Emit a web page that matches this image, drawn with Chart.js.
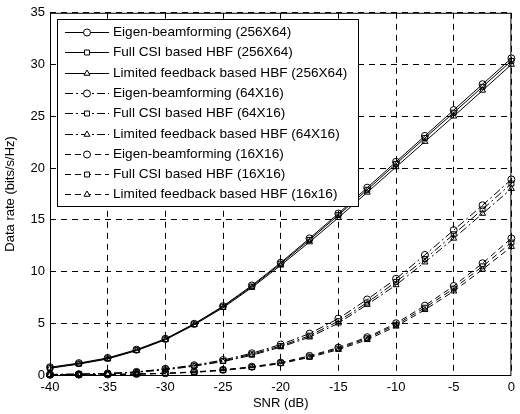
<!DOCTYPE html>
<html>
<head>
<meta charset="utf-8">
<script src="https://cdn.jsdelivr.net/npm/chart.js@4.4.1/dist/chart.umd.min.js"></script>
<style>
  html, body { margin: 0; padding: 0; background: #fff; }
  canvas { display: block; }
</style>
</head>
<body>
<canvas id="rateChart" width="520" height="414"></canvas>
<script>
// SNR points (dB)
const snr = [-40, -37.5, -35, -32.5, -30, -27.5, -25, -22.5, -20, -17.5, -15, -12.5, -10, -7.5, -5, -2.5, 0];

// 256X64
const eigen256 = [0.75, 1.15, 1.65, 2.45, 3.5, 4.95, 6.65, 8.65, 10.85, 13.2, 15.6, 18.1, 20.6, 23.1, 25.6, 28.1, 30.6];
const full256 = [0.7, 1.1, 1.6, 2.4, 3.45, 4.9, 6.6, 8.55, 10.75, 13.05, 15.45, 17.9, 20.4, 22.9, 25.35, 27.85, 30.35];
const lim256 = [0.65, 1.05, 1.55, 2.35, 3.4, 4.85, 6.5, 8.45, 10.6, 12.85, 15.2, 17.65, 20.1, 22.55, 25.0, 27.5, 30.0];

// 64X16
const eigen64 = [0.05, 0.08, 0.15, 0.3, 0.6, 0.95, 1.45, 2.1, 2.95, 4.0, 5.45, 7.3, 9.3, 11.6, 14.0, 16.4, 18.9];
const full64 = [0.05, 0.08, 0.14, 0.28, 0.55, 0.9, 1.35, 2.0, 2.8, 3.8, 5.2, 7.0, 9.0, 11.2, 13.6, 16.0, 18.5];
const lim64 = [0.04, 0.07, 0.13, 0.26, 0.5, 0.85, 1.3, 1.9, 2.7, 3.65, 5.0, 6.8, 8.7, 10.9, 13.2, 15.6, 18.0];

// 16X16
const eigen16 = [0.02, 0.03, 0.05, 0.1, 0.17, 0.3, 0.5, 0.8, 1.2, 1.85, 2.65, 3.65, 5.0, 6.7, 8.6, 10.8, 13.2];
const full16 = [0.02, 0.03, 0.05, 0.09, 0.16, 0.28, 0.47, 0.76, 1.15, 1.78, 2.55, 3.55, 4.85, 6.5, 8.35, 10.5, 12.8];
const lim16 = [0.02, 0.03, 0.04, 0.08, 0.15, 0.26, 0.44, 0.72, 1.1, 1.7, 2.45, 3.4, 4.7, 6.3, 8.1, 10.2, 12.4];

const seriesLabels = [
    'Eigen-beamforming (256X64)',
    'Full CSI based HBF (256X64)',
    'Limited feedback based HBF (256X64)',
    'Eigen-beamforming (64X16)',
    'Full CSI based HBF (64X16)',
    'Limited feedback based HBF (64X16)',
    'Eigen-beamforming (16X16)',
    'Full CSI based HBF (16X16)',
    'Limited feedback based HBF (16x16)'
];
const seriesValues = [eigen256, full256, lim256, eigen64, full64, lim64, eigen16, full16, lim16];
const markers = ['circle', 'rect', 'triangle'];
const dashes = [[], [8, 3, 2, 3], [6, 4]];

const FONT = '"Liberation Sans", Arial, sans-serif';
Chart.defaults.font.family = FONT;
Chart.defaults.font.size = 13;
Chart.defaults.color = '#000';

const datasets = seriesValues.map((vals, i) => ({
    label: seriesLabels[i],
    data: vals.map((v, k) => ({ x: snr[k], y: v })),
    borderColor: '#000',
    borderWidth: 1,
    borderDash: dashes[Math.floor(i / 3)],
    pointStyle: markers[i % 3],
    pointRadius: 3.5,
    pointBorderColor: '#000',
    pointBackgroundColor: 'rgba(0,0,0,0)',
    pointBorderWidth: 1,
    tension: 0,
    clip: false
}));

// Boxed legend + axis frame, drawn like the original figure
const frameLegend = {
    id: 'frameLegend',
    afterDatasetsDraw(chart) {
        const ctx = chart.ctx;
        const a = chart.chartArea;
        ctx.save();
        ctx.strokeStyle = '#000';
        ctx.lineWidth = 1;
        ctx.setLineDash([]);
        ctx.strokeRect(a.left + 0.5, a.top + 0.5, a.right - a.left - 1, a.bottom - a.top);

        const box = { left: 57, top: 19, right: 358, bottom: 206 };
        ctx.fillStyle = '#fff';
        ctx.fillRect(box.left, box.top, box.right - box.left, box.bottom - box.top);
        ctx.strokeRect(box.left + 0.5, box.top + 0.5, box.right - box.left, box.bottom - box.top);

        ctx.font = '13.6px ' + FONT;
        ctx.textBaseline = 'middle';
        chart.data.datasets.forEach((ds, i) => {
            const y = Math.round(32 + i * 20.3) + 0.5;
            ctx.setLineDash(ds.borderDash);
            ctx.beginPath();
            ctx.moveTo(65, y);
            ctx.lineTo(109, y);
            ctx.stroke();
            ctx.setLineDash([]);
            ctx.fillStyle = '#fff';
            Chart.helpers.drawPoint(ctx, { pointStyle: ds.pointStyle, radius: 3.5, rotation: 0, borderWidth: 1 }, 87, y);
            ctx.fillStyle = '#000';
            ctx.fillText(ds.label, 113, y);
        });
        ctx.restore();
    }
};

new Chart(document.getElementById('rateChart'), {
    type: 'line',
    data: { datasets },
    options: {
        responsive: false,
        animation: false,
        layout: { padding: { top: 12, right: 2, left: 0, bottom: 0 } },
        plugins: { legend: { display: false }, tooltip: { enabled: false } },
        scales: {
            x: {
                type: 'linear',
                min: -40,
                max: 0,
                ticks: { stepSize: 5, padding: 5, color: '#000' },
                grid: { color: '#000', lineWidth: 1, drawTicks: false },
                border: { display: false, dash: [6, 5] },
                title: { display: true, text: 'SNR (dB)', color: '#000', padding: { top: 0, bottom: 3 } },
                afterFit: (s) => { s.height = 39; }
            },
            y: {
                min: 0,
                max: 35,
                ticks: { stepSize: 5, padding: 5, color: '#000' },
                grid: { color: '#000', lineWidth: 1, drawTicks: false },
                border: { display: false, dash: [6, 5] },
                title: { display: true, text: 'Data rate (bits/s/Hz)', color: '#000', padding: { top: 3, bottom: 0 } },
                afterFit: (s) => { s.width = 50; }
            }
        }
    },
    plugins: [frameLegend]
});
</script>
</body>
</html>
